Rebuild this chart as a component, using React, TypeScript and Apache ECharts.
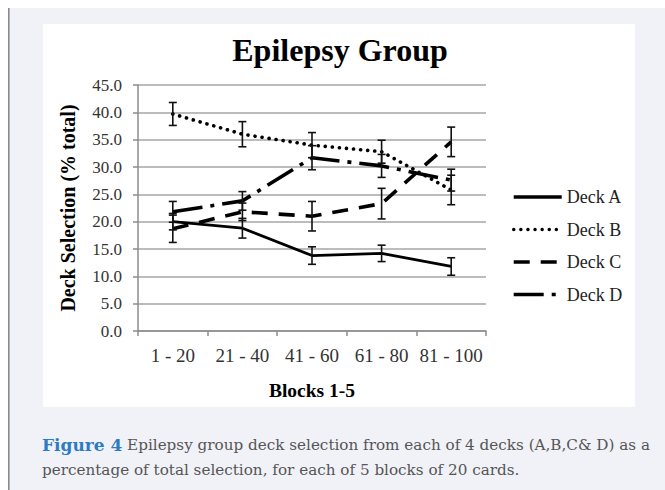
import React, { useEffect, useRef } from "react";
import * as echarts from "echarts";

const categories = ["1 - 20", "21 - 40", "41 - 60", "61 - 80", "81 - 100"];
const seriesNames = ["Deck A", "Deck B", "Deck C", "Deck D"];
const deckA = [20.0, 18.8, 13.8, 14.2, 11.8];
const deckB = [39.7, 36.0, 34.0, 32.8, 25.8];
const deckC = [18.7, 21.8, 21.0, 23.3, 34.6];
const deckD = [21.8, 23.8, 31.7, 30.2, 27.6];
const errA = [1.5, 1.8, 1.6, 1.5, 1.6];
const errB = [2.1, 2.3, 2.3, 2.1, 2.7];
const errC = [2.5, 1.6, 2.7, 2.8, 2.7];
const errD = [1.9, 1.7, 2.2, 2.1, 2.0];
const yMin = 0;
const yMax = 45;
const yStep = 5;
const titleText = "Epilepsy Group";
const yName = "Deck Selection (% total)";
const xName = "Blocks 1-5";
const captionLead = "Figure 4";
const captionLine1 = " Epilepsy group deck selection from each of 4 decks (A,B,C& D) as a";
const captionLine2 = "percentage of total selection, for each of 5 blocks of 20 cards.";

const SERIF = "'Liberation Serif', 'Times New Roman', serif";
const CAP = "'DejaVu Serif', serif";

function errorSeries(name: string, means: number[], errs: number[]) {
  return {
    type: "custom",
    name,
    silent: true,
    z: 4,
    encode: { x: 0, y: [1, 2] },
    data: means.map((m, i) => [i, m - errs[i], m + errs[i]]),
    renderItem: (params: any, api: any) => {
      const x = api.value(0);
      const lo = api.coord([x, api.value(1)]);
      const hi = api.coord([x, api.value(2)]);
      const w = 4;
      const st = { stroke: "#111", lineWidth: 1.6 };
      return {
        type: "group",
        children: [
          { type: "line", shape: { x1: lo[0], y1: lo[1], x2: hi[0], y2: hi[1] }, style: st },
          { type: "line", shape: { x1: lo[0] - w, y1: lo[1], x2: lo[0] + w, y2: lo[1] }, style: st },
          { type: "line", shape: { x1: hi[0] - w, y1: hi[1], x2: hi[0] + w, y2: hi[1] }, style: st },
        ],
      };
    },
  };
}

function lineSeries(name: string, data: number[], lineStyle: any) {
  return {
    type: "line",
    name,
    data,
    symbol: "none",
    showSymbol: false,
    z: 3,
    lineStyle: { color: "#000", ...lineStyle },
    itemStyle: { color: "#000" },
  };
}

export default function App() {
  const ref = useRef<HTMLDivElement>(null);
  useEffect(() => {
    if (!ref.current) return;
    const chart = echarts.init(ref.current, undefined, { renderer: "svg" });
    chart.setOption({
      animation: false,
      backgroundColor: "#ffffff",
      title: {
        text: titleText,
        left: 335,
        textAlign: "center",
        top: 29,
        textStyle: { fontFamily: SERIF, fontSize: 32, fontWeight: "bold", color: "#000" },
      },
      grid: { left: 138, right: 179, top: 85, bottom: 159 },
      legend: {
        data: seriesNames,
        orient: "vertical",
        left: 512,
        top: 188,
        padding: 0,
        itemWidth: 48,
        itemHeight: 14,
        itemGap: 14.5,
        itemStyle: { opacity: 0 },
        lineStyle: { width: 3.4 },
        textStyle: { fontFamily: SERIF, fontSize: 18, color: "#222" },
        selectedMode: false,
      },
      xAxis: {
        type: "category",
        data: categories,
        boundaryGap: true,
        name: xName,
        nameLocation: "middle",
        nameGap: 49,
        nameTextStyle: { fontFamily: SERIF, fontSize: 19.5, fontWeight: "bold", color: "#000" },
        axisLine: { lineStyle: { color: "#8c8c8c", width: 1.5 } },
        axisTick: { show: true, length: 5, lineStyle: { color: "#8c8c8c", width: 1.5 } },
        axisLabel: { interval: 0, margin: 15, fontFamily: SERIF, fontSize: 19, color: "#333" },
      },
      yAxis: {
        type: "value",
        min: yMin,
        max: yMax,
        interval: yStep,
        name: yName,
        nameLocation: "middle",
        nameGap: 60,
        nameTextStyle: { fontFamily: SERIF, fontSize: 20, fontWeight: "bold", color: "#000" },
        axisLine: { show: true, lineStyle: { color: "#8c8c8c", width: 1.5 } },
        axisTick: { show: true, length: 5, lineStyle: { color: "#8c8c8c", width: 1.5 } },
        axisLabel: {
          margin: 16,
          fontFamily: SERIF,
          fontSize: 17,
          color: "#333",
          formatter: (v: number) => v.toFixed(1),
        },
        splitLine: { show: true, lineStyle: { color: "#a6a6a6", width: 1.5 } },
      },
      graphic: [
        {
          type: "rect",
          z: -10,
          shape: { x: 8, y: 8, width: 657, height: 482 },
          style: { fill: "#f1f2f7" },
        },
        {
          type: "line",
          z: -9,
          shape: { x1: 8.8, y1: 8, x2: 8.8, y2: 490 },
          style: { stroke: "#8a8a8a", lineWidth: 1.6 },
        },
        {
          type: "rect",
          z: -9,
          shape: { x: 43, y: 24, width: 592, height: 383 },
          style: { fill: "#ffffff" },
        },
        {
          type: "text",
          left: 42,
          top: 436,
          style: {
            text: `{b|${captionLead}}{n|${captionLine1}}`,
            rich: {
              b: { fontFamily: CAP, fontSize: 17, fontWeight: "bold", fill: "#2d7bc4" },
              n: { fontFamily: CAP, fontSize: 15.2, fill: "#555" },
            },
          },
        },
        {
          type: "text",
          left: 42,
          top: 462,
          style: {
            text: captionLine2,
            fontFamily: CAP,
            fontSize: 15.2,
            fill: "#555",
          },
        },
      ],
      series: [
        lineSeries("Deck A", deckA, { type: "solid", width: 2.8 }),
        lineSeries("Deck B", deckB, { type: [0.1, 7], width: 3.6, cap: "round" }),
        lineSeries("Deck C", deckC, { type: [16, 11], width: 3.6, cap: "butt" }),
        lineSeries("Deck D", deckD, { type: [30, 8, 4, 8], width: 3.6, cap: "butt" }),
        errorSeries("Deck A error", deckA, errA),
        errorSeries("Deck B error", deckB, errB),
        errorSeries("Deck C error", deckC, errC),
        errorSeries("Deck D error", deckD, errD),
      ],
    });
    return () => chart.dispose();
  }, []);
  return (
    <div
      ref={ref}
      style={{ position: "fixed", left: 0, top: 0, width: 665, height: 490 }}
    />
  );
}
